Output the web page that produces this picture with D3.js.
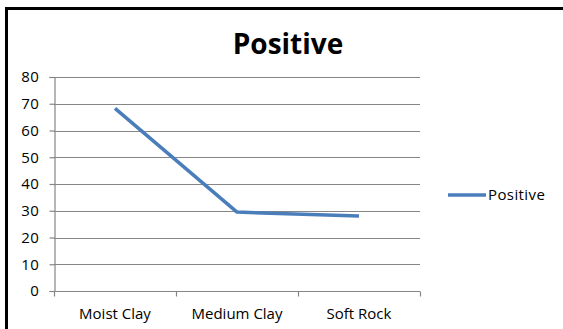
<!DOCTYPE html>
<html>
<head>
<meta charset="utf-8">
<script src="https://cdn.jsdelivr.net/npm/d3@7"></script>
<style>
  html, body { margin: 0; padding: 0; background: #fff; overflow: hidden; }
  svg { display: block; }
  text { font-family: "Open Sans", Lato, "Liberation Sans", sans-serif; font-variant-ligatures: none; }
</style>
</head>
<body>
<svg id="chart" width="563" height="329"></svg>
<script>
// Data
const categories = ["Moist Clay", "Medium Clay", "Soft Rock"];
const positiveValues = [68.3, 29.5, 28.0];
const yTicks = [0, 10, 20, 30, 40, 50, 60, 70, 80];
const seriesName = "Positive";
const chartTitle = "Positive";

const svg = d3.select("#chart");
const W = 563, H = 329;

// Outer frame: thick black edge along the top and left
svg.append("line").attr("x1", 5).attr("x2", W).attr("y1", 8.5).attr("y2", 8.5)
  .attr("stroke", "#000").attr("stroke-width", 3);
svg.append("line").attr("x1", 6.5).attr("x2", 6.5).attr("y1", 7).attr("y2", H)
  .attr("stroke", "#000").attr("stroke-width", 3);

const plot = { left: 54, right: 420, top: 77, bottom: 291 };

const x = d3.scaleBand().domain(categories).range([plot.left, plot.right]).padding(0);
const y = d3.scaleLinear().domain([0, 80]).range([plot.bottom, plot.top]);

const gridColor = "#868686";

// Horizontal gridlines
svg.append("g").selectAll("line")
  .data(yTicks.filter(d => d > 0))
  .join("line")
  .attr("x1", plot.left).attr("x2", plot.right)
  .attr("y1", d => Math.round(y(d)) + 0.5).attr("y2", d => Math.round(y(d)) + 0.5)
  .attr("stroke", gridColor).attr("stroke-width", 1.2);

// Y axis
const yAxis = d3.axisLeft(y).tickValues(yTicks).tickSize(5).tickPadding(10);
const gy = svg.append("g").attr("transform", `translate(${plot.left + 0.5},0)`).call(yAxis);
gy.select(".domain").attr("stroke", gridColor).attr("stroke-width", 1.2);
gy.selectAll(".tick line").attr("stroke", gridColor).attr("stroke-width", 1.2);
gy.selectAll(".tick text").attr("font-size", 15).attr("fill", "#000")
  .attr("letter-spacing", 0.6)
  .attr("font-family", "'Open Sans', sans-serif");

// X axis: ticks at category boundaries
const gx = svg.append("g").attr("transform", `translate(0,${Math.round(y(0)) + 0.5})`);
gx.append("line").attr("x1", plot.left).attr("x2", plot.right)
  .attr("stroke", gridColor).attr("stroke-width", 1.2);
const boundaries = categories.map(c => x(c)).concat([x(categories[categories.length - 1]) + x.bandwidth()]);
gx.selectAll("line.tk").data(boundaries).join("line")
  .attr("class", "tk")
  .attr("x1", d => Math.round(d) + 0.5).attr("x2", d => Math.round(d) + 0.5)
  .attr("y1", 0).attr("y2", 5)
  .attr("stroke", gridColor).attr("stroke-width", 1.2);
gx.selectAll("text").data(categories).join("text")
  .attr("x", d => x(d) + x.bandwidth() / 2)
  .attr("y", 27)
  .attr("text-anchor", "middle")
  .attr("font-size", 15)
  .attr("fill", "#000")
  .text(d => d);

// Series line
const line = d3.line()
  .x((d, i) => x(categories[i]) + x.bandwidth() / 2)
  .y(d => y(d));
svg.append("path")
  .datum(positiveValues)
  .attr("d", line)
  .attr("fill", "none")
  .attr("stroke", "#4a7ebb")
  .attr("stroke-width", 3.5)
  .attr("stroke-linejoin", "round");

// Title
svg.append("text")
  .attr("x", 288).attr("y", 54)
  .attr("text-anchor", "middle")
  .attr("font-size", 28)
  .attr("font-weight", "bold")
  .attr("fill", "#000")
  .text(chartTitle);

// Legend
const lg = svg.append("g").attr("transform", "translate(448,195)");
lg.append("line").attr("x1", 0).attr("x2", 38).attr("y1", 0).attr("y2", 0)
  .attr("stroke", "#4a7ebb").attr("stroke-width", 3.5);
lg.append("text").attr("x", 40).attr("y", 5)
  .attr("font-size", 15).attr("letter-spacing", 0.4)
  .attr("fill", "#000").text(seriesName);
</script>
</body>
</html>
